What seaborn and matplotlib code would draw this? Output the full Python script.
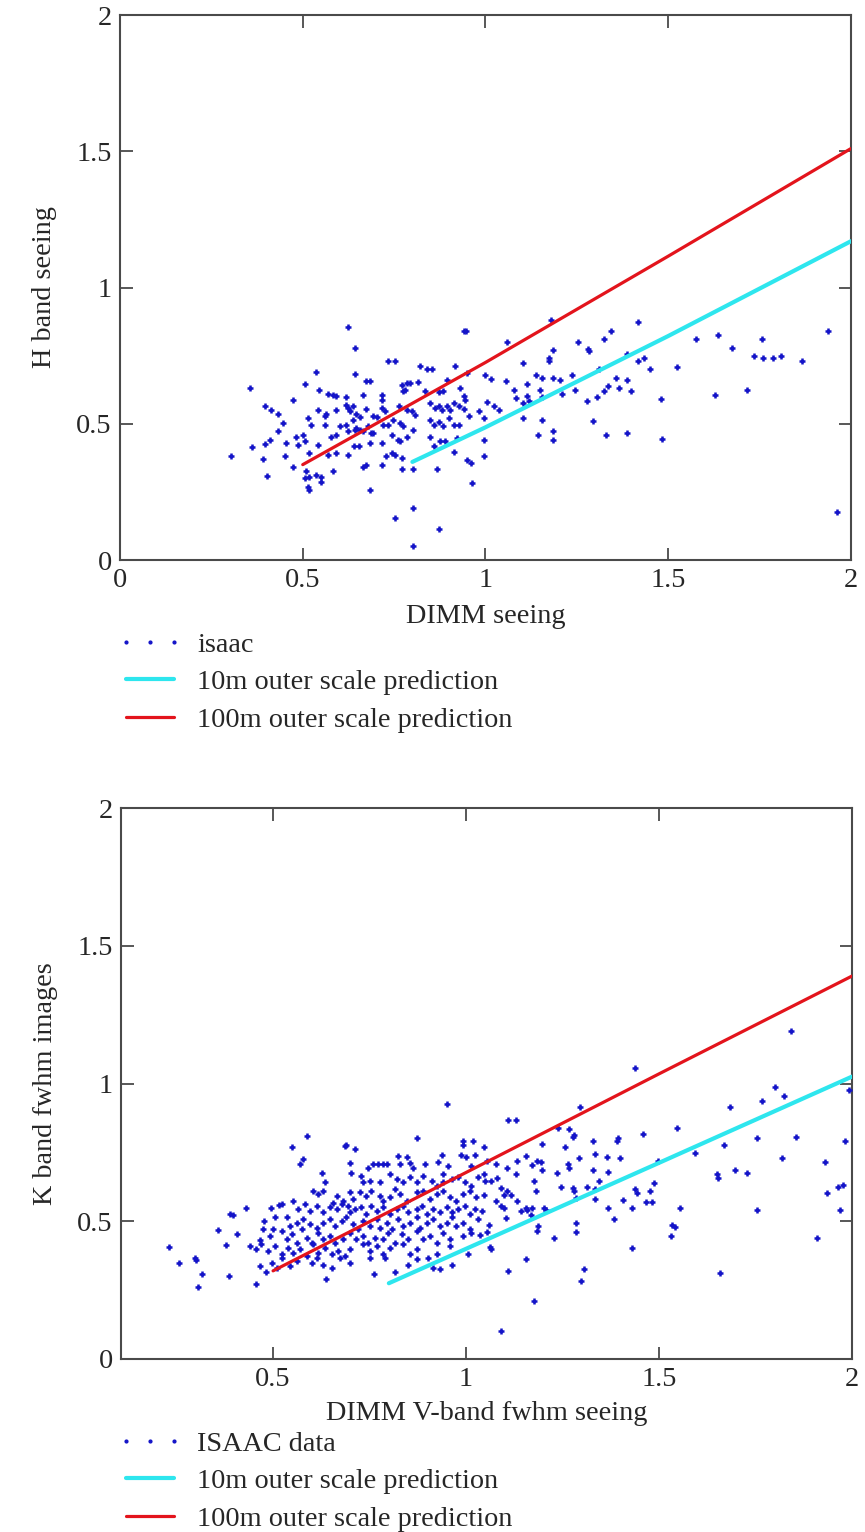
import matplotlib
matplotlib.use("Agg")
import matplotlib.pyplot as plt
import seaborn as sns
import pandas as pd
from matplotlib.lines import Line2D

# ---------------- data: H band panel ----------------
h_points = [
    (0.624,0.855),(0.643,0.778),(0.734,0.729),(0.752,0.729),(0.821,0.711),(0.839,0.701),(0.853,0.701),
    (0.940,0.839),(0.947,0.839),(1.058,0.800),(0.917,0.711),(0.536,0.689),(0.643,0.682),(0.674,0.656),
    (0.685,0.656),(0.505,0.647),(0.355,0.632),(0.544,0.625),(0.771,0.643),(0.784,0.649),(0.794,0.649),
    (0.814,0.652),(1.000,0.680),(1.014,0.665),(1.055,0.656),(0.894,0.662),(0.950,0.686),(0.569,0.610),
    (0.583,0.607),(0.592,0.603),(0.619,0.598),(0.665,0.607),(0.716,0.607),(0.716,0.588),(0.775,0.619),
    (0.780,0.625),(0.835,0.619),(0.872,0.615),(0.885,0.619),(0.931,0.631),(0.940,0.603),(0.945,0.586),
    (0.472,0.586),(0.396,0.564),(0.413,0.551),(0.433,0.535),(0.541,0.551),(0.560,0.527),(0.564,0.537),
    (0.592,0.549),(0.619,0.570),(0.624,0.557),(0.628,0.545),(0.638,0.564),(0.647,0.537),(0.656,0.524),
    (0.674,0.554),(0.693,0.529),(0.702,0.524),(0.716,0.557),(0.725,0.545),(0.764,0.564),(0.784,0.551),
    (0.798,0.545),(0.807,0.533),(0.849,0.576),(0.862,0.556),(0.874,0.564),(0.881,0.551),(0.894,0.564),
    (0.904,0.551),(0.913,0.576),(0.927,0.564),(0.940,0.554),(0.954,0.527),(0.982,0.545),(0.995,0.521),
    (1.023,0.564),(1.037,0.551),(1.078,0.625),(1.083,0.594),(1.005,0.578),(0.514,0.521),(0.523,0.496),
    (0.560,0.496),(0.601,0.490),(0.619,0.496),(0.638,0.515),(0.647,0.484),(0.656,0.478),(0.679,0.490),
    (0.688,0.466),(0.720,0.496),(0.734,0.496),(0.748,0.515),(0.766,0.502),(0.775,0.490),(0.803,0.478),
    (0.849,0.515),(0.858,0.496),(0.872,0.508),(0.885,0.490),(0.899,0.521),(0.913,0.496),(0.927,0.496),
    (0.431,0.475),(0.445,0.502),(0.482,0.453),(0.486,0.423),(0.500,0.459),(0.505,0.435),(0.541,0.423),
    (0.578,0.453),(0.592,0.459),(0.624,0.475),(0.642,0.478),(0.665,0.472),(0.693,0.466),(0.743,0.459),
    (0.761,0.441),(0.784,0.453),(0.849,0.453),(0.858,0.417),(0.876,0.435),(0.890,0.435),(0.922,0.447),
    (0.995,0.441),(0.995,0.380),(0.913,0.398),(0.362,0.414),(0.396,0.426),(0.411,0.439),(0.303,0.383),
    (0.390,0.370),(0.452,0.383),(0.454,0.429),(0.518,0.392),(0.569,0.386),(0.592,0.392),(0.624,0.386),
    (0.639,0.419),(0.654,0.419),(0.685,0.431),(0.716,0.431),(0.728,0.382),(0.743,0.392),(0.752,0.386),
    (0.766,0.435),(0.771,0.374),(0.472,0.343),(0.401,0.310),(0.509,0.325),(0.518,0.306),(0.505,0.300),
    (0.537,0.312),(0.550,0.306),(0.550,0.288),(0.514,0.269),(0.518,0.257),(0.583,0.325),(0.665,0.343),
    (0.674,0.349),(0.716,0.349),(0.772,0.333),(0.803,0.333),(0.867,0.333),(0.950,0.368),(0.959,0.355),
    (0.963,0.282),(0.685,0.257),(0.752,0.153),(0.803,0.190),(0.874,0.114),(0.803,0.051),
    (1.180,0.882),(1.253,0.799),(1.280,0.775),(1.283,0.766),(1.324,0.811),(1.344,0.840),(1.417,0.874),
    (1.184,0.772),(1.175,0.742),(1.175,0.729),(1.103,0.723),(1.139,0.680),(1.155,0.668),(1.185,0.668),
    (1.205,0.659),(1.237,0.680),(1.114,0.647),(1.150,0.625),(1.114,0.603),(1.103,0.576),(1.118,0.585),
    (1.155,0.597),(1.246,0.625),(1.210,0.610),(1.278,0.585),(1.304,0.598),(1.324,0.619),(1.335,0.640),
    (1.356,0.668),(1.365,0.631),(1.386,0.659),(1.397,0.619),(1.386,0.757),(1.417,0.729),(1.433,0.742),
    (1.449,0.702),(1.310,0.701),(1.525,0.708),(1.479,0.591),(1.627,0.604),(1.715,0.625),(1.575,0.811),
    (1.637,0.824),(1.674,0.778),(1.735,0.750),(1.756,0.811),(1.758,0.742),(1.787,0.742),(1.808,0.750),
    (1.865,0.729),(1.936,0.840),(1.961,0.175),(1.103,0.522),(1.155,0.515),(1.143,0.460),(1.185,0.472),
    (1.185,0.439),(1.294,0.509),(1.329,0.460),(1.386,0.466),(1.484,0.445),
]
h_pred10_x = [0.8, 1.0, 1.5, 2.0]
h_pred10_y = [0.36, 0.487, 0.822, 1.17]
h_pred100_x = [0.5, 1.0, 1.5, 2.0]
h_pred100_y = [0.35, 0.725, 1.115, 1.51]

# ---------------- data: K band panel ----------------
k_points = [
    (0.231,0.407),(0.257,0.349),(0.298,0.368),(0.300,0.359),(0.315,0.309),(0.306,0.262),(0.358,0.469),
    (0.378,0.413),(0.388,0.526),(0.395,0.522),(0.387,0.303),(0.407,0.453),(0.431,0.549),(0.456,0.274),
    (0.466,0.431),(0.466,0.337),(0.477,0.502),(0.482,0.315),(0.494,0.547),(0.501,0.471),(0.505,0.517),
    (0.516,0.559),(0.522,0.561),(0.548,0.769),(0.587,0.811),(0.577,0.727),(0.570,0.706),(0.626,0.674),
    (0.634,0.641),(0.686,0.773),(0.690,0.775),(0.712,0.763),(0.699,0.712),(0.703,0.675),(0.747,0.693),
    (0.760,0.708),(0.773,0.708),(0.785,0.708),(0.796,0.708),(0.824,0.736),(0.829,0.708),(0.846,0.733),
    (0.855,0.712),(0.863,0.693),(0.872,0.803),(0.893,0.708),(0.928,0.714),(0.937,0.741),(0.941,0.672),
    (0.954,0.700),(0.950,0.927),(0.993,0.790),(1.019,0.790),(0.993,0.775),(0.988,0.739),(1.001,0.733),
    (1.014,0.702),(1.023,0.739),
    (0.729,0.666),(0.734,0.641),(0.751,0.647),(0.777,0.641),(0.803,0.672),(0.820,0.654),(0.837,0.641),
    (0.855,0.660),(0.872,0.641),(0.889,0.666),(0.911,0.647),(0.924,0.629),(0.941,0.641),(0.963,0.654),
    (0.980,0.660),(0.997,0.641),(1.014,0.629),(1.032,0.660),
    (0.604,0.611),(0.617,0.599),(0.630,0.611),(0.656,0.568),(0.665,0.593),(0.682,0.574),(0.699,0.605),
    (0.708,0.581),(0.725,0.605),(0.742,0.593),(0.755,0.611),(0.777,0.593),(0.785,0.574),(0.803,0.587),
    (0.816,0.617),(0.829,0.599),(0.846,0.574),(0.872,0.605),(0.889,0.611),(0.906,0.581),(0.924,0.599),
    (0.941,0.611),(0.958,0.587),(0.975,0.574),(0.993,0.599),(1.010,0.611),(1.027,0.587),
    (0.552,0.574),(0.565,0.544),(0.583,0.562),(0.596,0.538),(0.613,0.556),(0.630,0.532),(0.647,0.550),
    (0.665,0.544),(0.678,0.562),(0.695,0.556),(0.699,0.532),(0.712,0.544),(0.729,0.550),(0.742,0.526),
    (0.755,0.556),(0.768,0.538),(0.785,0.550),(0.803,0.526),(0.820,0.544),(0.837,0.556),(0.850,0.532),
    (0.872,0.544),(0.885,0.556),(0.898,0.526),(0.915,0.544),(0.932,0.532),(0.950,0.550),(0.963,0.532),
    (0.980,0.544),(0.997,0.556),(1.010,0.526),(1.023,0.544),
    (0.535,0.514),(0.544,0.483),(0.561,0.495),(0.578,0.508),(0.596,0.489),(0.613,0.477),(0.630,0.495),
    (0.647,0.508),(0.660,0.483),(0.678,0.502),(0.690,0.514),(0.708,0.489),(0.721,0.471),(0.734,0.502),
    (0.751,0.483),(0.768,0.508),(0.777,0.477),(0.794,0.495),(0.807,0.471),(0.824,0.508),(0.837,0.483),
    (0.855,0.495),(0.872,0.514),(0.880,0.477),(0.898,0.495),(0.915,0.508),(0.932,0.483),(0.950,0.495),
    (0.963,0.514),(0.975,0.483),(0.993,0.495),(1.010,0.471),(1.032,0.508),
    (0.475,0.471),(0.492,0.447),(0.522,0.465),(0.535,0.435),(0.548,0.453),(0.561,0.422),(0.574,0.471),
    (0.587,0.441),(0.600,0.422),(0.617,0.459),(0.630,0.435),(0.647,0.447),(0.660,0.422),(0.682,0.435),
    (0.699,0.459),(0.716,0.435),(0.734,0.447),(0.747,0.422),(0.764,0.441),(0.785,0.435),(0.798,0.459),
    (0.816,0.422),(0.833,0.453),(0.850,0.435),(0.872,0.465),(0.889,0.435),(0.906,0.447),(0.924,0.422),
    (0.941,0.459),(0.958,0.435),(0.993,0.447),(1.014,0.459),
    (0.440,0.410),(0.457,0.398),(0.470,0.416),(0.488,0.392),(0.505,0.410),(0.522,0.380),(0.539,0.404),
    (0.552,0.386),(0.570,0.398),(0.587,0.374),(0.604,0.416),(0.617,0.386),(0.634,0.404),(0.652,0.380),
    (0.669,0.392),(0.686,0.374),(0.699,0.398),(0.734,0.416),(0.751,0.392),(0.768,0.410),(0.785,0.380),
    (0.803,0.404),(0.837,0.416),(0.855,0.380),(0.872,0.398),(0.924,0.380),(0.958,0.410),(1.006,0.380),
    (0.496,0.349),(0.509,0.331),(0.522,0.368),(0.544,0.337),(0.561,0.356),(0.600,0.349),(0.613,0.368),
    (0.630,0.343),(0.652,0.331),(0.673,0.368),(0.699,0.349),(0.751,0.368),(0.790,0.368),(0.850,0.343),
    (0.872,0.362),(0.902,0.368),(0.915,0.331),(0.932,0.325),(0.963,0.343),
    (0.636,0.291),(0.761,0.307),(0.816,0.315),(1.090,0.100),
    (1.110,0.867),(1.129,0.867),(1.438,1.055),(1.296,0.916),(1.841,1.192),(1.238,0.840),(1.268,0.836),
    (1.277,0.806),(1.281,0.812),(1.329,0.790),(1.257,0.771),(1.197,0.781),(1.155,0.736),(1.170,0.705),
    (1.185,0.720),(1.194,0.714),(1.198,0.685),(1.236,0.674),(1.264,0.708),(1.268,0.695),(1.292,0.728),
    (1.329,0.685),(1.335,0.744),(1.364,0.735),(1.399,0.728),(1.368,0.679),(1.390,0.793),(1.394,0.803),
    (1.458,0.818),(1.547,0.839),(1.246,0.624),(1.277,0.622),(1.281,0.609),(1.285,0.585),(1.314,0.624),
    (1.335,0.616),(1.335,0.582),(1.344,0.646),(1.368,0.548),(1.384,0.508),(1.407,0.576),(1.429,0.548),
    (1.438,0.618),(1.442,0.601),(1.466,0.570),(1.481,0.570),(1.477,0.609),(1.486,0.640),(1.497,0.717),
    (1.555,0.548),(1.534,0.487),(1.542,0.478),(1.531,0.446),(1.155,0.548),(1.168,0.523),(1.187,0.481),
    (1.185,0.465),(1.207,0.542),(1.227,0.438),(1.285,0.493),(1.285,0.460),(1.155,0.362),(1.110,0.321),
    (1.297,0.284),(1.305,0.327),(1.429,0.404),(1.594,0.748),(1.649,0.671),(1.654,0.658),(1.668,0.777),
    (1.683,0.916),(1.697,0.687),(1.727,0.674),(1.755,0.803),(1.767,0.937),(1.801,0.986),(1.825,0.955),
    (1.819,0.730),(1.856,0.806),(1.930,0.714),(1.934,0.603),(1.964,0.624),(1.977,0.630),(1.983,0.791),
    (1.969,0.542),(1.755,0.542),(1.910,0.438),(1.657,0.312),(1.992,0.977),(1.177,0.211),
    (1.046,0.769),(1.055,0.720),(1.046,0.671),(1.064,0.646),(1.081,0.658),(1.090,0.622),(1.098,0.597),
    (1.107,0.609),(1.116,0.597),(1.077,0.572),(1.090,0.554),(1.103,0.511),(1.133,0.572),(1.142,0.536),
    (1.129,0.671),(1.107,0.695),(1.133,0.720),(1.046,0.597),(1.042,0.536),(1.059,0.487),(1.055,0.462),
    (1.062,0.407),(1.037,0.450),(1.077,0.708),(1.050,0.646),(1.098,0.548),(1.159,0.542),(1.172,0.548),
    (1.181,0.609),(1.203,0.548),(1.177,0.646),(1.064,0.401),
]
k_pred10_x = [0.8, 1.0, 1.5, 2.0]
k_pred10_y = [0.275, 0.40, 0.712, 1.025]
k_pred100_x = [0.5, 1.0, 1.5, 2.0]
k_pred100_y = [0.32, 0.677, 1.035, 1.39]

y_ticks = [0, 0.5, 1, 1.5, 2]
y_tick_labels = ["0", "0.5", "1", "1.5", "2"]
h_x_ticks = [0, 0.5, 1, 1.5, 2]
h_x_tick_labels = ["0", "0.5", "1", "1.5", "2"]
k_x_ticks = [0.5, 1, 1.5, 2]
k_x_tick_labels = ["0.5", "1", "1.5", "2"]

# ---------------- styling ----------------
sns.set_theme(style="white")
plt.rcParams["font.family"] = ["Liberation Serif", "DejaVu Serif"]

FS = 20.3
PT_COLOR = "#1414c8"
CYAN = "#2ee6ee"
RED = "#e3141c"
SPINE = "#4a4a4a"
TXT = "#262626"

W, H = 865, 1532
fig = plt.figure(figsize=(W / 100, H / 100), dpi=100)
fig.patch.set_facecolor("white")


def fax(l, t, r, b):
    return fig.add_axes([l / W, 1 - b / H, (r - l) / W, (b - t) / H])


def style_axes(ax, xlim, xticks, xlabels):
    ax.set_xlim(*xlim)
    ax.set_ylim(0, 2)
    ax.set_xticks(xticks)
    ax.set_xticklabels(xlabels)
    ax.set_yticks(y_ticks)
    ax.set_yticklabels(y_tick_labels)
    for s in ax.spines.values():
        s.set_visible(True)
        s.set_color(SPINE)
        s.set_linewidth(1.5)
    ax.tick_params(axis="both", which="major", direction="in", length=9, width=1.3,
                   color=SPINE, labelsize=FS, labelcolor=TXT, top=True, right=True,
                   bottom=True, left=True, labeltop=False, labelright=False, pad=6)
    ax.grid(False)
    ax.set_facecolor("white")


def draw_panel(ax, pts, p10x, p10y, p100x, p100y):
    df = pd.DataFrame(pts, columns=["dimm", "seeing"])
    sns.scatterplot(data=df, x="dimm", y="seeing", ax=ax, marker="+", s=24,
                    color=PT_COLOR, linewidth=1.8, legend=False, zorder=3)
    sns.lineplot(x=p10x, y=p10y, ax=ax, color=CYAN, linewidth=3.0, legend=False,
                 sort=True, estimator=None, zorder=4)
    sns.lineplot(x=p100x, y=p100y, ax=ax, color=RED, linewidth=2.3, legend=False,
                 sort=True, estimator=None, zorder=5)


def add_legend(ax, first_label, top_px):
    handles = [
        Line2D([], [], linestyle="none", marker=".", markersize=4, color=PT_COLOR),
        Line2D([], [], color=CYAN, linewidth=3.0),
        Line2D([], [], color=RED, linewidth=2.3),
    ]
    labels = [first_label, "10m outer scale prediction", "100m outer scale prediction"]
    leg = ax.legend(handles, labels, loc="upper left", bbox_to_anchor=(118 / W, 1 - top_px / H),
                    bbox_transform=fig.transFigure, frameon=False, fontsize=FS,
                    numpoints=3, handlelength=2.3, handletextpad=0.5, labelspacing=0.42,
                    borderpad=0, borderaxespad=0)
    for t in leg.get_texts():
        t.set_color(TXT)


# ---- H band panel ----
ax1 = fax(120, 15, 851, 560)
draw_panel(ax1, h_points, h_pred10_x, h_pred10_y, h_pred100_x, h_pred100_y)
style_axes(ax1, (0, 2), h_x_ticks, h_x_tick_labels)
ax1.set_xlabel("DIMM seeing", fontsize=FS, color=TXT, labelpad=8)
ax1.set_ylabel("H band seeing", fontsize=FS, color=TXT, labelpad=14)
add_legend(ax1, "isaac", 632)

# ---- K band panel ----
ax2 = fax(121, 808, 852, 1359)
draw_panel(ax2, k_points, k_pred10_x, k_pred10_y, k_pred100_x, k_pred100_y)
style_axes(ax2, (0.106, 2), k_x_ticks, k_x_tick_labels)
ax2.set_xlabel("DIMM V-band fwhm seeing", fontsize=FS, color=TXT, labelpad=6)
ax2.set_ylabel("K band fwhm images", fontsize=FS, color=TXT, labelpad=14)
add_legend(ax2, "ISAAC data", 1431)

fig.savefig("out.png", dpi=100, facecolor="white")
